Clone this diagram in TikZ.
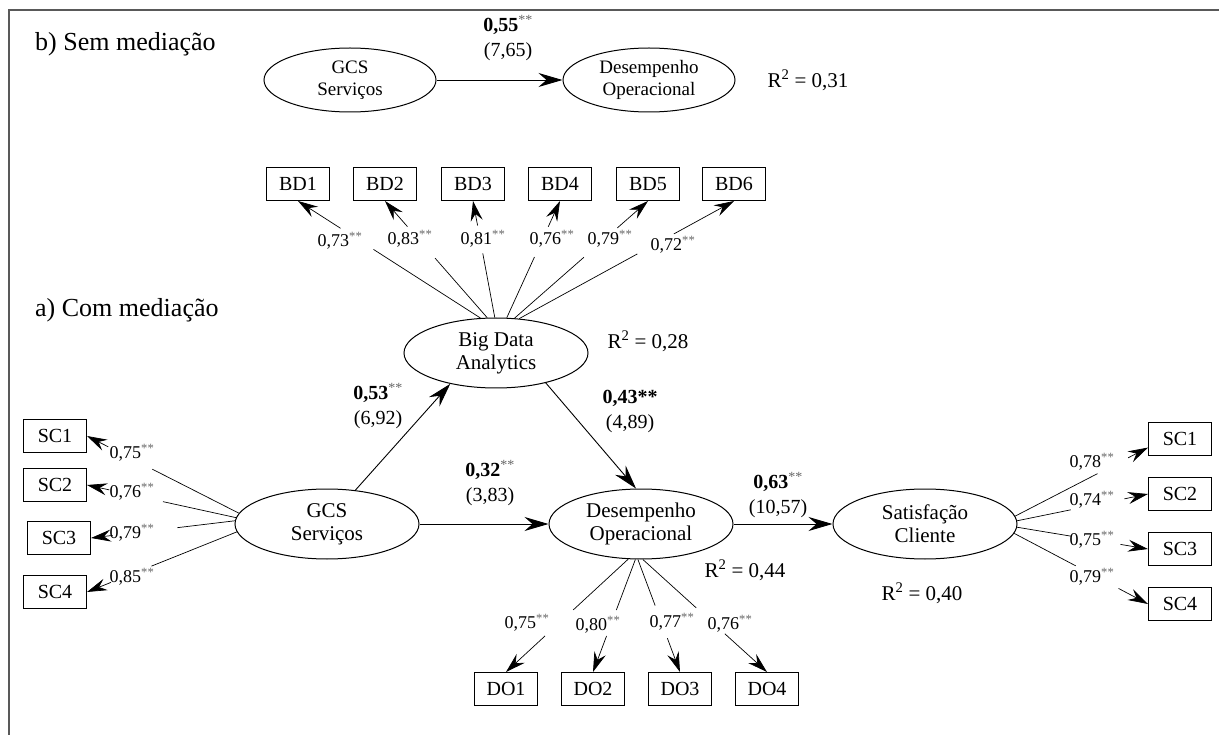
\documentclass[tikz,border=0pt]{standalone}
\usepackage{fontspec}
\setmainfont{Liberation Serif}
\usetikzlibrary{arrows.meta,shapes.geometric,calc}
\newcommand\sstar{\textsuperscript{\textcolor{black!60}{**}}}
\newcommand\loadln[4]{%
  \draw[ldline] (#1) -- ($(#1)!#3!(#2)$);
  \draw[ldarrow] ($(#1)!#4!(#2)$) -- (#2);
}
\begin{document}
\begin{tikzpicture}[x=1pt,y=-1pt,
  lat/.style={ellipse,draw,line width=1,minimum width=184,minimum height=70,inner sep=0,align=center,font=\fontsize{21}{23}\selectfont},
  latsmall/.style={lat,minimum width=172,minimum height=64,font=\fontsize{19}{22}\selectfont},
  ind/.style={rectangle,draw,line width=1,minimum width=63,minimum height=33,inner sep=0,font=\fontsize{20}{22}\selectfont},
  coef/.style={align=center,font=\fontsize{20}{25}\selectfont,inner sep=0},
  ld/.style={font=\fontsize{18}{20}\selectfont,inner sep=0},
  rsq/.style={font=\fontsize{21}{23}\selectfont,inner sep=0},
  sect/.style={font=\fontsize{26}{28}\selectfont,anchor=west,inner sep=0},
  pth/.style={line width=0.9,-{Stealth[length=24,width=14,inset=8]}},
  ldline/.style={line width=0.7},
  ldarrow/.style={line width=0.7,-{Stealth[length=20,width=12,inset=7]}},
]
\useasboundingbox (0,0) rectangle (1219,735);
\draw[line width=1.6,black!65] (1219,10) -- (9,10) -- (9,735);

% --- b) without mediation
\node[sect] (lb) at (35,44) {b) Sem mediação};
\node[latsmall] (gcsT) at (350,80) {GCS\\Serviços};
\node[latsmall] (doT) at (649,80) {Desempenho\\Operacional};
\draw[pth] (gcsT.east) -- (doT.west);
\node[coef] (cT) at (508,38) {\textbf{0,55}\sstar\\(7,65)};
\node[rsq] (rT) at (808,80) {R\textsuperscript{2} = 0,31};

% --- a) with mediation
\node[sect] (la) at (35,310) {a) Com mediação};
\node[lat] (bda) at (496,353) {Big Data\\Analytics};
\node[lat] (gcs) at (327,524) {GCS\\Serviços};
\node[lat] (dop) at (641,524) {Desempenho\\Operacional};
\node[lat] (sat) at (925,524) {Satisfação\\Cliente};

\node[ind] (bd1) at (298,184) {BD1};
\node[ind] (bd2) at (385,184) {BD2};
\node[ind] (bd3) at (473,184) {BD3};
\node[ind] (bd4) at (560,184) {BD4};
\node[ind] (bd5) at (648,184) {BD5};
\node[ind] (bd6) at (734,184) {BD6};

\node[ind] (scl1) at (55,436) {SC1};
\node[ind] (scl2) at (55,485) {SC2};
\node[ind] (scl3) at (59,538) {SC3};
\node[ind] (scl4) at (55,592) {SC4};

\node[ind] (scr1) at (1180,439) {SC1};
\node[ind] (scr2) at (1180,494) {SC2};
\node[ind] (scr3) at (1180,549) {SC3};
\node[ind] (scr4) at (1180,604) {SC4};

\node[ind] (do1) at (506,689) {DO1};
\node[ind] (do2) at (593,689) {DO2};
\node[ind] (do3) at (680,689) {DO3};
\node[ind] (do4) at (767,689) {DO4};

% structural paths
\draw[pth] (gcs.50) -- (bda.214);
\draw[pth] (bda.-31) -- (dop.98);
\draw[pth] (gcs.east) -- (dop.west);
\draw[pth] (dop.east) -- (sat.west);

\node[coef] (c1) at (378,406) {\textbf{0,53}\sstar\\(6,92)};
\node[coef] (c2) at (630,411) {\textbf{0,43**}\\(4,89)};
\node[coef] (c3) at (490,483) {\textbf{0,32}\sstar\\(3,83)};
\node[coef] (c4) at (778,495) {\textbf{0,63}\sstar\\(10,57)};

\node[rsq] (r1) at (648,341) {R\textsuperscript{2} = 0,28};
\node[rsq] (r2) at (745,570) {R\textsuperscript{2} = 0,44};
\node[rsq] (r3) at (922,593) {R\textsuperscript{2} = 0,40};

% loadings Big Data
\loadln{bda.114}{bd1.south}{0.586}{0.767}
\loadln{bda.104}{bd2.south}{0.51}{0.78}
\loadln{bda.92}{bd3.south}{0.55}{0.79}
\loadln{bda.73}{bd4.south}{0.52}{0.78}
\loadln{bda.62}{bd5.south}{0.52}{0.77}
\loadln{bda.56}{bd6.south}{0.55}{0.72}
\node[ld] (lbd1) at (340,241) {0,73\sstar};
\node[ld] (lbd2) at (410,239) {0,83\sstar};
\node[ld] (lbd3) at (483,239) {0,81\sstar};
\node[ld] (lbd4) at (552,239) {0,76\sstar};
\node[ld] (lbd5) at (610,239) {0,79\sstar};
\node[ld] (lbd6) at (673,245) {0,72\sstar};

% loadings GCS
\loadln{gcs.173}{scl1.east}{0.57}{0.86}
\loadln{gcs.176}{scl2.east}{0.49}{0.85}
\loadln{gcs.178}{scl3.east}{0.40}{0.85}
\loadln{gcs.185}{scl4.east}{0.57}{0.84}
\node[ld] (lsl1) at (132,453) {0,75\sstar};
\node[ld] (lsl2) at (132,492) {0,76\sstar};
\node[ld] (lsl3) at (132,533) {0,79\sstar};
\node[ld] (lsl4) at (132,577) {0,85\sstar};

% loadings Satisfacao
\loadln{sat.5}{scr1.195}{0.62}{0.85}
\loadln{sat.2}{scr2.west}{0.41}{0.82}
\loadln{sat.-2}{scr3.west}{0.41}{0.79}
\loadln{sat.-6}{scr4.west}{0.46}{0.78}
\node[ld] (lsr1) at (1092,462) {0,78\sstar};
\node[ld] (lsr2) at (1092,500) {0,74\sstar};
\node[ld] (lsr3) at (1092,540) {0,75\sstar};
\node[ld] (lsr4) at (1092,577) {0,79\sstar};

% loadings Desempenho
\loadln{dop.250}{do1.north}{0.45}{0.68}
\loadln{dop.261}{do2.north}{0.45}{0.68}
\loadln{dop.265}{do3.north}{0.41}{0.70}
\loadln{dop.273}{do4.north}{0.43}{0.66}
\node[ld] (ldo1) at (527,623) {0,75\sstar};
\node[ld] (ldo2) at (598,625) {0,80\sstar};
\node[ld] (ldo3) at (672,622) {0,77\sstar};
\node[ld] (ldo4) at (730,624) {0,76\sstar};
\end{tikzpicture}
\end{document}
